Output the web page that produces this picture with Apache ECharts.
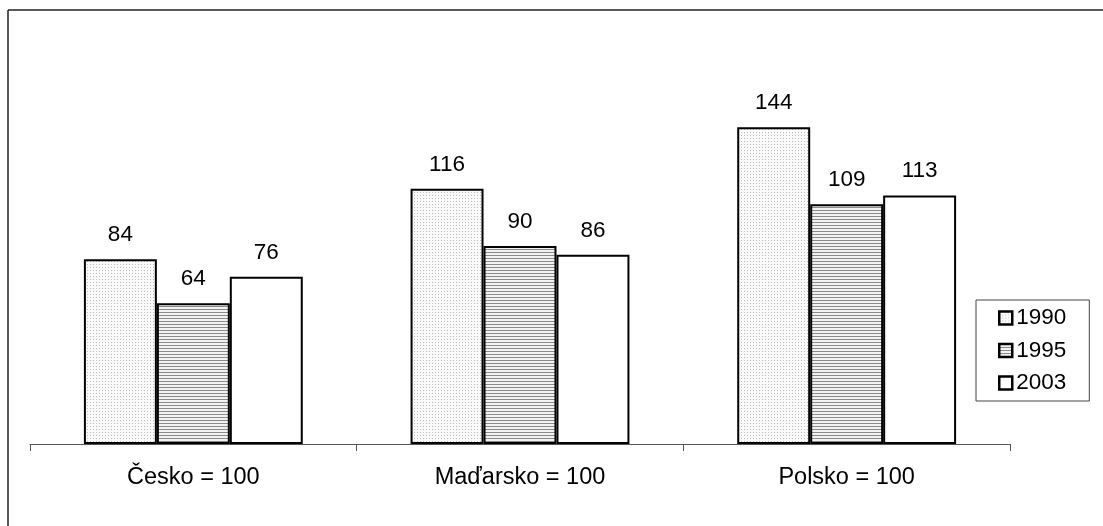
<!DOCTYPE html>
<html><head><meta charset="utf-8">
<script src="https://cdn.jsdelivr.net/npm/echarts@6/dist/echarts.min.js"></script>
<style>html,body{margin:0;padding:0;background:#fff}#c{width:1103px;height:526px}</style>
</head><body><div id="c"></div>
<script>
const categories = ['Česko = 100', 'Maďarsko = 100', 'Polsko = 100'];
const seriesNames = ['1990', '1995', '2003'];
const values1990 = [84, 116, 144];
const values1995 = [64, 90, 109];
const values2003 = [76, 86, 113];

function dotPattern() {
  const c = document.createElement('canvas'); c.width = 3; c.height = 3;
  const g = c.getContext('2d');
  g.fillStyle = '#fafafa'; g.fillRect(0, 0, 3, 3);
  g.fillStyle = '#bbbbbb'; g.fillRect(0, 0, 1, 1);
  return c;
}
function linePattern() {
  const c = document.createElement('canvas'); c.width = 4; c.height = 3;
  const g = c.getContext('2d');
  g.fillStyle = '#f2f2f2'; g.fillRect(0, 0, 4, 3);
  g.fillStyle = '#8a8a8a'; g.fillRect(0, 0, 4, 1);
  return c;
}
const fills = [
  { image: dotPattern(), repeat: 'repeat' },
  { image: linePattern(), repeat: 'repeat' },
  '#ffffff'
];
const data = [values1990, values1995, values2003];
const FONT = 'Liberation Sans, Arial, sans-serif';

const chart = echarts.init(document.getElementById('c'), null, { renderer: 'canvas' });
chart.setOption({
  animation: false,
  backgroundColor: '#fff',
  textStyle: { fontFamily: FONT },
  graphic: [
    { type: 'line', shape: { x1: 8, y1: 10, x2: 1103, y2: 10 }, style: { stroke: '#222', lineWidth: 1.5 } },
    { type: 'line', shape: { x1: 8, y1: 10, x2: 8, y2: 526 }, style: { stroke: '#222', lineWidth: 1.5 } }
  ],
  grid: { left: 30, right: 93, top: 48, bottom: 82 },
  legend: {
    orient: 'vertical', left: 976, top: 300,
    data: seriesNames,
    icon: 'rect', itemWidth: 13, itemHeight: 13, itemGap: 8.5,
    padding: [6, 23, 6, 22],
    borderColor: '#444', borderWidth: 1,
    textStyle: { fontSize: 22.5, lineHeight: 24, color: '#000', padding: [0, 0, 0, -1], fontFamily: FONT },
    itemStyle: { borderColor: '#000', borderWidth: 2.5 }
  },
  xAxis: {
    type: 'category', data: categories,
    axisLine: { lineStyle: { color: '#555', width: 1 } },
    axisTick: { show: true, length: 7, lineStyle: { color: '#555' } },
    axisLabel: { fontSize: 23.5, color: '#000', margin: 22, fontFamily: FONT }
  },
  yAxis: { type: 'value', min: 0, max: 180, show: false, splitLine: { show: false } },
  series: seriesNames.map((n, i) => ({
    name: n, type: 'bar', data: data[i],
    barGap: '0%', barCategoryGap: '33%',
    itemStyle: { color: fills[i], borderColor: '#000', borderWidth: 2 },
    label: { show: true, position: 'top', distance: 13, fontSize: 22.5, color: '#000', fontFamily: FONT }
  }))
});
</script></body></html>
